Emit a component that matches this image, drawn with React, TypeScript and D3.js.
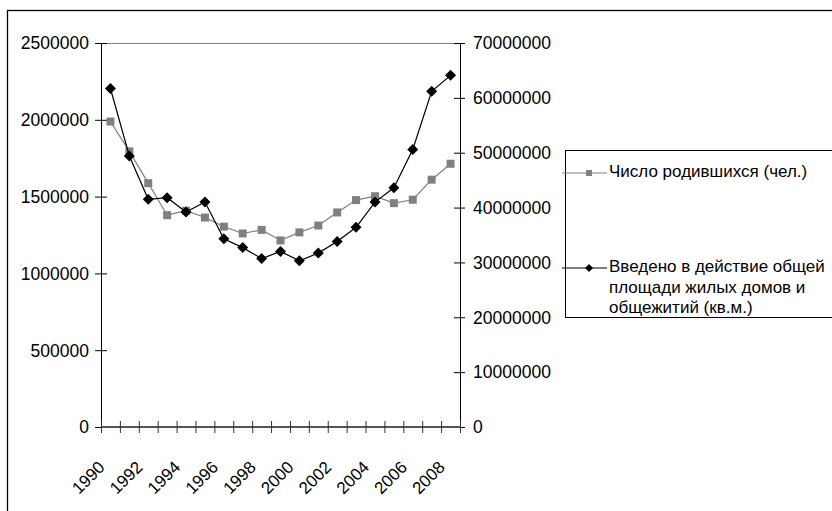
import React from "react";
import * as d3 from "d3";

const years = ["1990","1991","1992","1993","1994","1995","1996","1997","1998","1999","2000","2001","2002","2003","2004","2005","2006","2007","2008"];
const births = [1988858,1794626,1587644,1378983,1408159,1363806,1304638,1259943,1283292,1214689,1266800,1311604,1396967,1477301,1502477,1457376,1479637,1610122,1713947];
const housing = [61700000,49400000,41500000,41800000,39200000,41000000,34300000,32700000,30700000,32000000,30300000,31700000,33800000,36400000,41000000,43600000,50600000,61200000,64100000];
const leftTicks = [0,500000,1000000,1500000,2000000,2500000];
const rightTicks = [0,10000000,20000000,30000000,40000000,50000000,60000000,70000000];
const seriesNames = ["Число родившихся (чел.)"];
const seriesNames2 = ["Введено в действие общей", "площади жилых домов и", "общежитий (кв.м.)"];

const W = 832, H = 511;
const L = 101, R = 460, T = 43, B = 427;
const FONT = "'Liberation Sans', Arial, sans-serif";

export default function App() {
  const x = d3.scaleBand().domain(years).range([L, R]);
  const yL = d3.scaleLinear().domain([0, 2500000]).range([B, T]);
  const yR = d3.scaleLinear().domain([0, 70000000]).range([B, T]);
  const cx = (y: string) => (x(y) as number) + x.bandwidth() / 2;
  const lineL = d3.line<number>().x((_, i) => cx(years[i])).y(d => yL(d));
  const lineR = d3.line<number>().x((_, i) => cx(years[i])).y(d => yR(d));
  const bounds = years.map(y => x(y) as number).concat([R]);
  const diamond = (px: number, py: number, r: number) => `M${px},${py - r}L${px + r},${py}L${px},${py + r}L${px - r},${py}Z`;

  return (
    <svg width={W} height={H} style={{ position: "absolute", left: 0, top: 0, background: "#fff" }} fontFamily={FONT}>
      <rect x={7.5} y={10.5} width={840} height={520} fill="#fff" stroke="#000" strokeWidth={1.3} />
      {/* top gridline */}
      <line x1={L} x2={R} y1={T + 0.5} y2={T + 0.5} stroke="#808080" strokeWidth={1} />
      {/* left axis */}
      <line x1={L + 0.5} x2={L + 0.5} y1={T} y2={B} stroke="#000" />
      {leftTicks.map(t => (
        <g key={t}>
          <line x1={L - 6} x2={L + 6} y1={yL(t) + 0.5} y2={yL(t) + 0.5} stroke="#000" />
          <text x={L - 12} y={yL(t)} dy="0.36em" textAnchor="end" fontSize={17.5}>{t}</text>
        </g>
      ))}
      {/* right axis */}
      <line x1={R + 0.5} x2={R + 0.5} y1={T} y2={B} stroke="#000" />
      {rightTicks.map(t => (
        <g key={t}>
          <line x1={R - 6} x2={R + 5} y1={yR(t) + 0.5} y2={yR(t) + 0.5} stroke="#000" />
          <text x={R + 13} y={yR(t)} dy="0.36em" textAnchor="start" fontSize={17.5}>{t}</text>
        </g>
      ))}
      {/* x axis */}
      <line x1={L} x2={R} y1={B} y2={B} stroke="#555" strokeWidth={2} />
      {bounds.map((b, i) => (
        <line key={i} x1={b + 0.5} x2={b + 0.5} y1={B - 6} y2={B + 6} stroke="#333" />
      ))}
      {years.map((y, i) => i % 2 === 0 ? (
        <text key={y} transform={`translate(${cx(y) - 9},${B + 37}) rotate(-45)`} textAnchor="end" fontSize={17} dy="0.36em">{y}</text>
      ) : null)}
      {/* births series */}
      <path d={lineL(births) as string} fill="none" stroke="#808080" strokeWidth={1.2} />
      {births.map((v, i) => (
        <rect key={i} x={cx(years[i]) - 4} y={yL(v) - 4} width={8} height={8} fill="#808080" />
      ))}
      {/* housing series */}
      <path d={lineR(housing) as string} fill="none" stroke="#000" strokeWidth={1.2} />
      {housing.map((v, i) => (
        <path key={i} d={diamond(cx(years[i]), yR(v), 5.5)} fill="#000" />
      ))}
      {/* legend */}
      <rect x={565.5} y={150.5} width={300} height={167} fill="#fff" stroke="#000" />
      <line x1={562} x2={607} y1={173} y2={173} stroke="#808080" strokeWidth={1.2} />
      <rect x={586} y={170} width={6} height={6} fill="#808080" />
      <text x={609} y={177} fontSize={17}>{seriesNames[0]}</text>
      <line x1={562} x2={607} y1={268} y2={268} stroke="#000" strokeWidth={1.2} />
      <path d={diamond(589, 268, 4)} fill="#000" />
      {seriesNames2.map((s, i) => (
        <text key={i} x={609} y={272 + i * 20.5} fontSize={17}>{s}</text>
      ))}
    </svg>
  );
}
